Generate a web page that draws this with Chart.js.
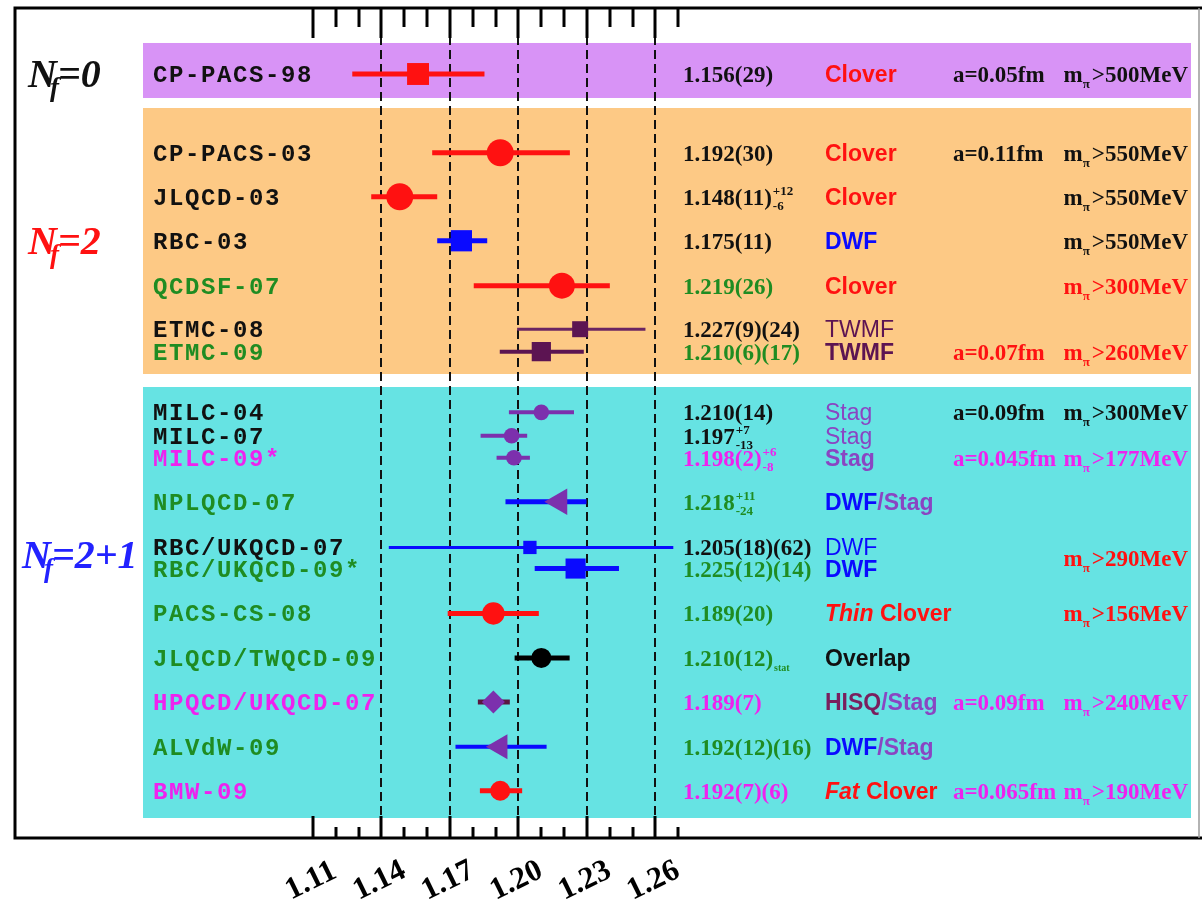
<!DOCTYPE html>
<html>
<head>
<meta charset="utf-8">
<script src="https://cdn.jsdelivr.net/npm/chart.js@4.4.1/dist/chart.umd.min.js"></script>
<style>
  html, body { margin: 0; padding: 0; background: #ffffff; }
  canvas { display: block; }
</style>
</head>
<body>
<canvas id="fkfpi" width="1202" height="900"></canvas>
<script>
// ---------------------------------------------------------------------------
// Lattice determinations of f_K / f_pi, grouped by number of sea flavours
// ---------------------------------------------------------------------------
const collaborations = [
  'CP-PACS-98',
  'CP-PACS-03', 'JLQCD-03', 'RBC-03', 'QCDSF-07', 'ETMC-08', 'ETMC-09',
  'MILC-04', 'MILC-07', 'MILC-09*', 'NPLQCD-07', 'RBC/UKQCD-07', 'RBC/UKQCD-09*',
  'PACS-CS-08', 'JLQCD/TWQCD-09', 'HPQCD/UKQCD-07', 'ALVdW-09', 'BMW-09'
];
const flavourGroup = [0, 1, 1, 1, 1, 1, 1, 2, 2, 2, 2, 2, 2, 2, 2, 2, 2, 2];

const centralValues = [
  1.156,
  1.192, 1.148, 1.175, 1.219, 1.227, 1.210,
  1.210, 1.197, 1.198, 1.218, 1.205, 1.225,
  1.189, 1.210, 1.189, 1.192, 1.192
];
const errorLow = [
  1.1272,
  1.1622, 1.1355, 1.1644, 1.1804, 1.1994, 1.1918,
  1.1958, 1.1834, 1.1904, 1.1943, 1.1432, 1.2071,
  1.1690, 1.1983, 1.1822, 1.1724, 1.1831
];
const errorHigh = [
  1.1851,
  1.2225, 1.1644, 1.1863, 1.2400, 1.2556, 1.2286,
  1.2243, 1.2038, 1.2050, 1.2298, 1.2678, 1.2440,
  1.2089, 1.2224, 1.1962, 1.2123, 1.2016
];

// quoted results (main text, superscript, subscript)
const resultText = [
  '1.156(29)',
  '1.192(30)', '1.148(11)', '1.175(11)', '1.219(26)', '1.227(9)(24)', '1.210(6)(17)',
  '1.210(14)', '1.197', '1.198(2)', '1.218', '1.205(18)(62)', '1.225(12)(14)',
  '1.189(20)', '1.210(12)', '1.189(7)', '1.192(12)(16)', '1.192(7)(6)'
];
const resultSup = ['', '', '+12', '', '', '', '', '', '+7', '+6', '+11', '', '', '', '', '', '', ''];
const resultSub = ['', '', '-6', '', '', '', '', '', '-13', '-8', '-24', '', '', '', 'stat', '', '', ''];

const fermionActions = [
  'Clover',
  'Clover', 'Clover', 'DWF', 'Clover', 'TWMF', 'TWMF',
  'Stag', 'Stag', 'Stag', 'DWF/Stag', 'DWF', 'DWF',
  'Thin Clover', 'Overlap', 'HISQ/Stag', 'DWF/Stag', 'Fat Clover'
];
const latticeSpacing = [
  'a=0.05fm',
  'a=0.11fm', '', '', '', '', 'a=0.07fm',
  'a=0.09fm', '', 'a=0.045fm', '', '', '',
  '', '', 'a=0.09fm', '', 'a=0.065fm'
];
const pionMassMin = [
  '500',
  '550', '550', '550', '300', '', '260',
  '300', '', '177', '', '290', '',
  '156', '', '240', '', '190'
];

const groupNames = [['N', 'f', '=0'], ['N', 'f', '=2'], ['N', 'f', '=2+1']];

const majorTicks = [1.11, 1.14, 1.17, 1.20, 1.23, 1.26];
const tickLabels = ['1.11', '1.14', '1.17', '1.20', '1.23', '1.26'];
const minorTicks = [1.12, 1.13, 1.15, 1.16, 1.18, 1.19, 1.21, 1.22, 1.24, 1.25, 1.27];

// ---------------------------------------------------------------------------
// Layout and styling
// ---------------------------------------------------------------------------
const INK = {
  k: '#111111', g: '#1f8c22', m: '#ee22ee', r: '#ff1111', b: '#0a0aff',
  p: '#7c30ad', d: '#5c1452', h: '#7a1f5e'
};
const nameInk = ['k', 'k', 'k', 'k', 'g', 'k', 'g', 'k', 'k', 'm', 'g', 'k', 'g', 'g', 'g', 'm', 'g', 'm'];
const infoInk = ['k', 'k', 'k', 'k', 'r', 'k', 'r', 'k', 'k', 'm', 'k', 'r', 'r', 'r', 'k', 'm', 'k', 'm'];
const groupInk = ['#111111', '#ff1111', '#2222ff'];
const actionInk = { Clover: INK.r, Thin: INK.r, Fat: INK.r, DWF: INK.b, Stag: '#8a45c2', TWMF: INK.d, Overlap: INK.k, HISQ: INK.h };
const actionWeight = ['bold', 'bold', 'bold', 'bold', 'bold', 'normal', 'bold',
  'normal', 'normal', 'bold', 'bold', 'normal', 'bold', 'bold', 'bold', 'bold', 'bold', 'bold'];

const markerStyle = ['rect', 'circle', 'circle', 'rect', 'circle', 'rect', 'rect',
  'circle', 'circle', 'circle', 'triangle', 'rect', 'rect', 'circle', 'circle', 'rectRot', 'triangle', 'circle'];
const markerSize = [15.5, 13.5, 13.5, 15, 13, 11.3, 13.6, 7.8, 7.8, 7.8, 15.3, 9.4, 14.2, 11.2, 10, 11.5, 14.4, 10];
const markerInk = [INK.r, INK.r, INK.r, INK.b, INK.r, INK.d, INK.d, INK.p, INK.p, INK.p, INK.p, INK.b, INK.b,
  INK.r, '#000000', INK.p, INK.p, INK.r];
const barInk = [INK.r, INK.r, INK.r, INK.b, INK.r, '#6a2462', INK.d, INK.p, INK.p, INK.p, INK.b, INK.b, INK.b,
  INK.r, '#000000', '#5a1740', INK.b, INK.r];
const barWidth = [5, 5, 5, 5, 5, 3, 4, 4, 4, 4, 5, 3, 5, 5, 5, 5, 4, 5];

// vertical slot spacing between consecutive rows (1 slot = one regular row)
const rowStep = [1.5, 1.79, 1, 1, 1.02, 0.99, 0.51, 1.38, 0.53, 0.5, 1, 1.04, 0.48, 1.02, 1.01, 1, 1.02, 1];
const rowSlot = [];
rowStep.reduce((acc, s) => { const v = acc + s; rowSlot.push(v); return v; }, 0);
const infoBetweenPair = new Set([11]);
const groupLabelSlot = [1.5, 5.29, 12.43];
const groupLabelX = [28, 28, 22];
const bands = [
  { from: 0.795, to: 2.045, color: '#d893f6' },
  { from: 2.273, to: 8.318, color: '#fdc985' },
  { from: 8.614, to: 18.409, color: '#66e3e3' }
];
const BAND_LEFT = 143, BAND_RIGHT = 1191;
const COL_NAME = 153, COL_VALUE = 683, COL_ACTION = 825, COL_SPACING = 953, COL_MPI_RIGHT = 1188;

// ---------------------------------------------------------------------------
// Drawing helpers
// ---------------------------------------------------------------------------
function put(ctx, text, x, base, font, color, align) {
  ctx.font = font;
  ctx.fillStyle = color;
  ctx.textAlign = align || 'left';
  ctx.textBaseline = 'alphabetic';
  ctx.fillText(text, x, base);
  return ctx.measureText(text).width;
}

function actionParts(name) {
  const tokens = name.split(/(?=[\/ ])/);
  return tokens.map(tok => {
    const word = tok.replace(/^[\/ ]/, '');
    return { text: tok, color: actionInk[word] || INK.k, italic: word === 'Thin' || word === 'Fat' };
  });
}

function drawPionMass(ctx, value, rightX, base, color) {
  const big = 'bold 23px "Liberation Serif"';
  const small = 'bold 13px "Liberation Serif"';
  const rest = '>' + value + 'MeV';
  ctx.font = big; const wm = ctx.measureText('m').width; const wr = ctx.measureText(rest).width;
  ctx.font = small; const wp = ctx.measureText('\u03c0').width;
  let x = rightX - (wm + wp + 2 + wr);
  put(ctx, 'm', x, base, big, color); x += wm;
  put(ctx, '\u03c0', x, base + 6, small, color); x += wp + 2;
  put(ctx, rest, x, base, big, color);
}

const forestDecor = {
  id: 'forestDecor',
  beforeDatasetsDraw(chart) {
    const { ctx, chartArea: area } = chart;
    const xs = chart.scales.x, ys = chart.scales.y;
    ctx.save();

    // coloured flavour bands
    bands.forEach(b => {
      const t = ys.getPixelForValue(b.from), bt = ys.getPixelForValue(b.to);
      ctx.fillStyle = b.color;
      ctx.fillRect(BAND_LEFT, t, BAND_RIGHT - BAND_LEFT, bt - t);
    });

    // dashed reference lines at the labelled ticks
    ctx.setLineDash([9, 5]);
    ctx.lineWidth = 2;
    ctx.strokeStyle = '#111111';
    majorTicks.slice(1).forEach(v => {
      const px = Math.round(xs.getPixelForValue(v));
      ctx.beginPath(); ctx.moveTo(px, area.top); ctx.lineTo(px, area.bottom); ctx.stroke();
    });
    ctx.setLineDash([]);

    // group titles N_f = ...
    groupNames.forEach((parts, g) => {
      const base = ys.getPixelForValue(groupLabelSlot[g]) + 13;
      const big = 'italic bold 40px "Liberation Serif"';
      const sub = 'italic bold 27px "Liberation Serif"';
      const x0 = groupLabelX[g];
      const wN = put(ctx, parts[0], x0, base, big, groupInk[g]);
      put(ctx, parts[1], x0 + wN - 7, base + 9, sub, groupInk[g]);
      put(ctx, parts[2], x0 + wN + 1, base, big, groupInk[g]);
    });

    // per-row text columns
    collaborations.forEach((name, i) => {
      const y = ys.getPixelForValue(rowSlot[i]);
      const base = y + 8;

      ctx.letterSpacing = '1.6px';
      put(ctx, name, COL_NAME, base, 'bold 24px "Liberation Mono"', INK[nameInk[i]]);
      ctx.letterSpacing = '0px';

      const vFont = 'bold 23px "Liberation Serif"';
      const w = put(ctx, resultText[i], COL_VALUE, base, vFont, INK[nameInk[i]]);
      const sFont = 'bold 13px "Liberation Serif"';
      if (resultSup[i]) put(ctx, resultSup[i], COL_VALUE + w + 1, base - 10, sFont, INK[nameInk[i]]);
      if (resultSub[i]) {
        const f = resultSub[i] === 'stat' ? 'bold 10px "Liberation Serif"' : sFont;
        put(ctx, resultSub[i], COL_VALUE + w + 1, base + 5, f, INK[nameInk[i]]);
      }

      let ax = COL_ACTION;
      actionParts(fermionActions[i]).forEach(p => {
        const f = (p.italic ? 'italic ' : '') + actionWeight[i] + ' 23px "Liberation Sans"';
        ax += put(ctx, p.text, ax, base, f, p.color);
      });

      const infoY = infoBetweenPair.has(i) ? (y + ys.getPixelForValue(rowSlot[i + 1])) / 2 + 8 : base;
      if (latticeSpacing[i]) put(ctx, latticeSpacing[i], COL_SPACING, infoY, 'bold 23px "Liberation Serif"', INK[infoInk[i]]);
      if (pionMassMin[i]) drawPionMass(ctx, pionMassMin[i], COL_MPI_RIGHT, infoY, INK[infoInk[i]]);
    });
    ctx.restore();
  },
  afterDatasetsDraw(chart) {
    const { ctx, chartArea: area } = chart;
    const xs = chart.scales.x;
    ctx.save();
    ctx.strokeStyle = '#000000';
    ctx.lineCap = 'butt';

    // ticks hanging from the top edge and rising from the bottom axis
    ctx.lineWidth = 3;
    const tick = (v, len) => {
      const px = Math.round(xs.getPixelForValue(v));
      ctx.beginPath(); ctx.moveTo(px, area.top); ctx.lineTo(px, area.top + len.top); ctx.stroke();
      ctx.beginPath(); ctx.moveTo(px, area.bottom); ctx.lineTo(px, area.bottom - len.bottom); ctx.stroke();
    };
    majorTicks.forEach(v => tick(v, { top: 30, bottom: 22 }));
    minorTicks.forEach(v => tick(v, { top: 19, bottom: 11 }));

    // frame
    ctx.lineWidth = 3;
    ctx.beginPath();
    ctx.moveTo(area.left, area.top); ctx.lineTo(1202, area.top);
    ctx.moveTo(area.left, area.top - 1.5); ctx.lineTo(area.left, area.bottom + 1.5);
    ctx.moveTo(area.left, area.bottom); ctx.lineTo(1202, area.bottom);
    ctx.stroke();
    ctx.strokeStyle = '#9a9a9a';
    ctx.lineWidth = 1.5;
    ctx.beginPath(); ctx.moveTo(area.right, area.top); ctx.lineTo(area.right, area.bottom); ctx.stroke();

    // slanted tick labels
    tickLabels.forEach((t, k) => {
      const px = xs.getPixelForValue(majorTicks[k]);
      ctx.save();
      ctx.translate(px - 2, area.bottom + 43);
      ctx.rotate(-26 * Math.PI / 180);
      ctx.font = 'bold 31px "Liberation Serif"';
      ctx.fillStyle = '#000000';
      ctx.textAlign = 'center';
      ctx.textBaseline = 'middle';
      ctx.fillText(t, 0, 0);
      ctx.restore();
    });
    ctx.restore();
  }
};

// ---------------------------------------------------------------------------
// Chart
// ---------------------------------------------------------------------------
const markerPoints = centralValues.map((v, i) => ({ x: v, y: rowSlot[i] }));
const errorBarSets = centralValues.map((v, i) => ({
  type: 'line',
  data: [{ x: errorLow[i], y: rowSlot[i] }, { x: errorHigh[i], y: rowSlot[i] }],
  borderColor: barInk[i],
  borderWidth: barWidth[i],
  borderCapStyle: 'butt',
  pointRadius: 0,
  showLine: true,
  order: 2
}));

new Chart(document.getElementById('fkfpi'), {
  type: 'scatter',
  data: {
    datasets: [{
      data: markerPoints,
      pointStyle: markerStyle,
      pointRadius: markerSize,
      pointBackgroundColor: markerInk,
      pointBorderWidth: 0,
      pointBorderColor: markerInk,
      pointRotation: markerStyle.map(s => (s === 'triangle' ? -90 : 0)),
      order: 1
    }, ...errorBarSets]
  },
  options: {
    responsive: false,
    animation: false,
    events: [],
    layout: { autoPadding: false, padding: { left: 15, top: 8, right: 3, bottom: 62 } },
    scales: {
      x: { type: 'linear', min: 0.97949, max: 1.49803, display: false },
      y: { type: 'linear', min: 0, max: 830 / 44, reverse: true, display: false }
    },
    plugins: { legend: { display: false }, tooltip: { enabled: false } }
  },
  plugins: [forestDecor]
});
</script>
</body>
</html>
